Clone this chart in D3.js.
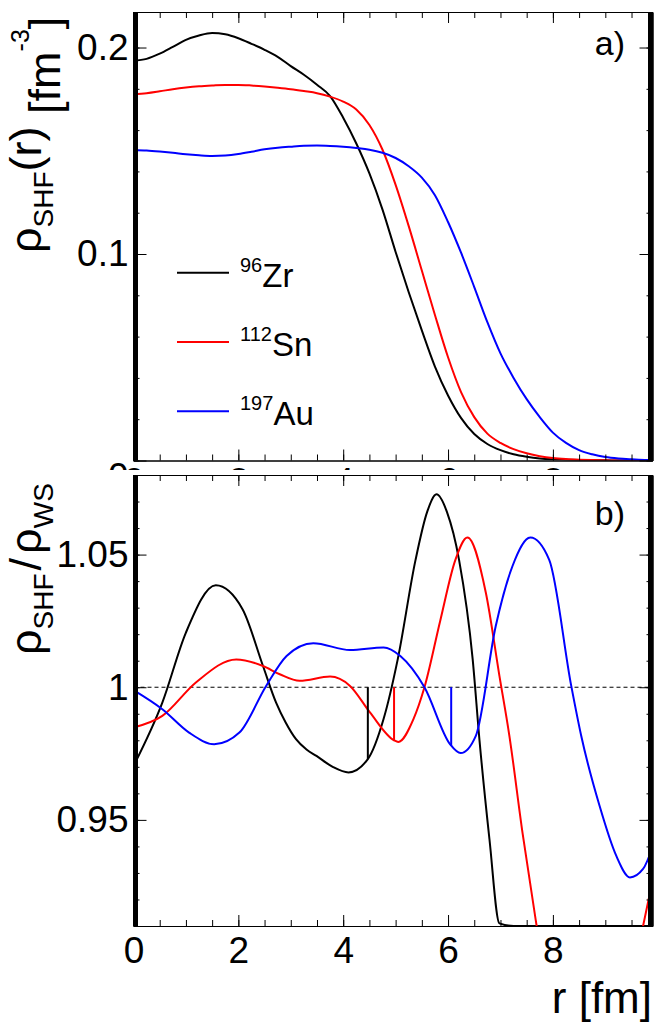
<!doctype html>
<html>
<head>
<script type='text/javascript' src='https://d3js.org/d3.v7.min.js'></script>
<style>
body{margin:0;background:#fff}
svg{display:block;font-family:"Liberation Sans",Arial,Helvetica,sans-serif}
</style>
</head>
<body>
<script>
var width = 664, height = 1026;

// panel a) SHF densities [fm^-3] on a common r grid [fm]
var rGrid = [0, 0.25, 0.5, 0.75, 1, 1.25, 1.5, 1.75, 2, 2.25, 2.5, 2.75, 3, 3.25, 3.5, 3.75, 4, 4.25, 4.5, 4.75,
             5, 5.25, 5.5, 5.75, 6, 6.25, 6.5, 6.75, 7, 7.25, 7.5, 7.75, 8, 8.25, 8.5, 8.75, 9, 9.25, 9.5, 9.75, 9.9];
var zrDensity = [0.1936, 0.1945, 0.197, 0.2003, 0.2037, 0.2058, 0.207, 0.2064, 0.2045, 0.2018, 0.1989, 0.1955, 0.191, 0.1868, 0.182, 0.1765, 0.166, 0.1535, 0.139, 0.1215,
                 0.101, 0.0815, 0.063, 0.0455, 0.0315, 0.0205, 0.0128, 0.008, 0.005, 0.003, 0.0018, 0.001, 0.0006, 0.0004, 0.0002, 0.0001, 0.0001, 0, 0, 0, 0];
var snDensity = [0.1774, 0.1779, 0.1788, 0.1798, 0.1806, 0.1812, 0.1816, 0.1819, 0.1819, 0.1816, 0.1811, 0.1805, 0.1798, 0.1789, 0.1779, 0.1762, 0.1738, 0.170, 0.1625, 0.1505,
                 0.1335, 0.1135, 0.092, 0.0705, 0.050, 0.033, 0.021, 0.013, 0.0085, 0.0055, 0.0035, 0.0021, 0.0012, 0.0007, 0.0004, 0.0002, 0.0001, 0, 0, 0, 0];
var auDensity = [0.1504, 0.1501, 0.1496, 0.149, 0.1483, 0.1478, 0.1475, 0.1477, 0.1484, 0.1495, 0.1507, 0.1515, 0.152, 0.1524, 0.1525, 0.1523, 0.1519, 0.1513, 0.1505, 0.149,
                 0.1465, 0.1425, 0.137, 0.1285, 0.1155, 0.1005, 0.084, 0.067, 0.0519, 0.04, 0.0297, 0.021, 0.0135, 0.0085, 0.005, 0.003, 0.0017, 0.001, 0.0006, 0.0003, 0.0002];

// panel b) rho_SHF / rho_WS
var zrRatioR = [0, 0.55, 1.0, 1.57, 2.08, 2.47, 2.72, 2.9, 3.1, 3.3, 3.49, 3.8, 4.1, 4.47, 4.77, 5.04, 5.38, 5.6, 5.78, 5.98, 6.21, 6.47, 6.6, 6.79, 6.98, 7.25, 7.5, 8.0, 8.5, 9.0, 9.5, 9.9];
var zrRatio  = [0.9703, 0.9942, 1.0206, 1.0384, 1.0294, 1.008, 0.9942, 0.9868, 0.9804, 0.9765, 0.9741, 0.970, 0.9679, 0.9729, 0.988, 1.0105, 1.048, 1.066, 1.0727, 1.066, 1.048, 1.0105, 0.980, 0.9427, 0.911, 0.86, 0.80, 0.68, 0.55, 0.45, 0.36, 0.30];
var snRatioR = [0, 0.55, 1.19, 1.96, 2.47, 2.79, 3.17, 3.75, 4.13, 4.51, 4.97, 5.05, 5.34, 5.55, 5.85, 6.14, 6.37, 6.72, 6.98, 7.17, 7.42, 7.69, 8.0, 8.5, 9.0, 9.4, 9.72, 9.9];
var snRatio  = [0.9848, 0.9892, 1.0018, 1.0105, 1.008, 1.0049, 1.0024, 1.004, 1.0005, 0.9905, 0.9800, 0.9794, 0.988, 1.000, 1.025, 1.048, 1.0564, 1.0357, 1.0043, 0.9817, 0.9452, 0.910, 0.872, 0.845, 0.848, 0.88, 0.910, 0.927];
var auRatioR = [0, 0.55, 1.06, 1.54, 2.02, 2.53, 2.92, 3.43, 4.13, 4.77, 5.09, 5.55, 6.04, 6.24, 6.53, 6.91, 7.23, 7.57, 7.93, 8.35, 8.54, 8.89, 9.21, 9.47, 9.72, 9.9];
var auRatio  = [0.9989, 0.9917, 0.9829, 0.9785, 0.9829, 1.0005, 1.0118, 1.0166, 1.014, 1.015, 1.0118, 1.0000, 0.9785, 0.9752, 0.9817, 1.0231, 1.0457, 1.0564, 1.048, 1.0005, 0.9817, 0.9553, 0.9364, 0.9283, 0.9315, 0.9396];

// single-point spikes in the ratio (up to 1)
var spikeR   = [4.47, 4.97, 6.06];
var spikeLow = [0.9729, 0.9800, 0.9779];

var massNumbers = ['96', '112', '197'];
var symbols = ['Zr', 'Sn', 'Au'];
var xTicks = [0, 2, 4, 6, 8];
var topYTicks = [0, 0.1, 0.2];
var botYTicks = [0.95, 1, 1.05];
var colors = ['#000000', '#ff0000', '#0000ff'];

var svg = d3.select('body').append('svg').attr('width', width).attr('height', height);

var x = d3.scaleLinear().domain([0, 9.9]).range([133.5, 652.5]);
var yTop = d3.scaleLinear().domain([0, 0.2172]).range([460.5, 12]);
var yBot = d3.scaleLinear().domain([0.91, 1.08]).range([926, 475]);

var xMinor = d3.range(0, 9.9, 0.5);

function styleAxis(g) {
  g.attr('font-family', null).attr('font-size', 37);
  g.selectAll('line').attr('stroke', '#000').attr('stroke-width', 1);
  g.selectAll('path').attr('stroke', '#000').attr('stroke-width', 1);
  g.selectAll('text').attr('fill', '#000');
}

function drawFrame(g, y, yMajor, yMinor, xPad, yFmt) {
  var y0 = y.range()[0], y1 = y.range()[1];
  // minor ticks
  g.append('g').attr('transform', 'translate(0,' + y0 + ')')
    .call(d3.axisBottom(x).tickValues(xMinor).tickSize(-6).tickSizeOuter(0).tickFormat('')).call(styleAxis);
  g.append('g').attr('transform', 'translate(0,' + y1 + ')')
    .call(d3.axisTop(x).tickValues(xMinor).tickSize(-6).tickSizeOuter(0).tickFormat('')).call(styleAxis);
  g.append('g').attr('transform', 'translate(' + x(0) + ',0)')
    .call(d3.axisLeft(y).tickValues(yMinor).tickSize(-6).tickSizeOuter(0).tickFormat('')).call(styleAxis);
  g.append('g').attr('transform', 'translate(' + x(9.9) + ',0)')
    .call(d3.axisRight(y).tickValues(yMinor).tickSize(-6).tickSizeOuter(0).tickFormat('')).call(styleAxis);
  // major ticks + labels
  g.append('g').attr('transform', 'translate(0,' + y0 + ')')
    .call(d3.axisBottom(x).tickValues(xTicks).tickSize(-11).tickSizeOuter(0).tickPadding(xPad).tickFormat(d3.format('d'))).call(styleAxis);
  g.append('g').attr('transform', 'translate(0,' + y1 + ')')
    .call(d3.axisTop(x).tickValues(xTicks).tickSize(-11).tickSizeOuter(0).tickFormat('')).call(styleAxis);
  var yl = g.append('g').attr('transform', 'translate(' + x(0) + ',0)')
    .call(d3.axisLeft(y).tickValues(yMajor).tickSize(-13).tickSizeOuter(0).tickPadding(5).tickFormat(yFmt)).call(styleAxis);
  g.append('g').attr('transform', 'translate(' + x(9.9) + ',0)')
    .call(d3.axisRight(y).tickValues(yMajor).tickSize(-13).tickSizeOuter(0).tickFormat('')).call(styleAxis);
  // thick vertical axes
  g.append('rect').attr('x', x(0) - 0.5).attr('y', y1).attr('width', 5).attr('height', y0 - y1).attr('fill', '#000');
  g.append('rect').attr('x', x(9.9) - 4.5).attr('y', y1).attr('width', 5).attr('height', y0 - y1).attr('fill', '#000');
  return yl;
}

var lineTop = d3.line().x(function(d) { return x(d[0]); }).y(function(d) { return yTop(d[1]); }).curve(d3.curveMonotoneX);

// ---------- panel a)
svg.append('clipPath').attr('id', 'padA').append('rect').attr('x', 0).attr('y', 0).attr('width', width).attr('height', 470);
svg.append('clipPath').attr('id', 'frameA').append('rect')
  .attr('x', x(0)).attr('y', yTop.range()[1]).attr('width', x(9.9) - x(0)).attr('height', yTop.range()[0] - yTop.range()[1]);
var pa = svg.append('g').attr('clip-path', 'url(#padA)');

var densities = [zrDensity, snDensity, auDensity];
pa.append('g').attr('clip-path', 'url(#frameA)').selectAll('path')
  .data(densities).join('path')
  .attr('d', function(s) { return lineTop(rGrid.map(function(r, i) { return [r, s[i]]; })); })
  .attr('fill', 'none')
  .attr('stroke', function(s, i) { return colors[i]; })
  .attr('stroke-width', 2);

var ylA = drawFrame(pa, yTop, topYTicks, d3.range(0, 0.218, 0.02), 7, function(d) { return d === 0 ? '0' : d3.format('.1f')(d); });
ylA.selectAll('.tick text').filter(function(d) { return d === 0; }).attr('dy', '0.75em');

// legend
var leg = pa.append('g').selectAll('g').data(symbols).join('g')
  .attr('transform', function(d, i) { return 'translate(0,' + (286.7 + i * 69.3) + ')'; });
leg.append('line').attr('x1', 177).attr('x2', 229).attr('y1', -14).attr('y2', -14)
  .attr('stroke', function(d, i) { return colors[i]; }).attr('stroke-width', 2);
var lt = leg.append('text').attr('x', 240).attr('y', 0).attr('font-size', 33);
lt.append('tspan').attr('font-size', 20).attr('dy', -15).text(function(d, i) { return massNumbers[i]; });
lt.append('tspan').attr('dy', 15).text(function(d) { return d; });

pa.append('text').attr('x', 625).attr('y', 55).attr('text-anchor', 'end').attr('font-size', 34).text('a)');

var ta = svg.append('text').attr('transform', 'rotate(-90)').attr('x', -253).attr('y', 41).attr('font-size', 45);
ta.append('tspan').text('\u03c1');
ta.append('tspan').attr('font-size', 28).attr('dy', 12).text('SHF');
ta.append('tspan').attr('dy', -12).text('(r)');
ta.append('tspan').attr('dy', 19).text('\u00a0[fm');
ta.append('tspan').attr('font-size', 25).attr('dy', -31).text('-3');
ta.append('tspan').attr('dy', 31).text(']');

// ---------- panel b)
svg.append('clipPath').attr('id', 'frameB').append('rect')
  .attr('x', x(0)).attr('y', yBot.range()[1]).attr('width', x(9.9) - x(0)).attr('height', yBot.range()[0] - yBot.range()[1] + 1);
var pb = svg.append('g');

pb.append('line').attr('x1', x(0)).attr('x2', x(9.9)).attr('y1', yBot(1)).attr('y2', yBot(1))
  .attr('stroke', '#000').attr('stroke-width', 1).attr('stroke-dasharray', '4,3');

var ratios = [[zrRatioR, zrRatio, true], [snRatioR, snRatio, false], [auRatioR, auRatio, false]];
var yClamp = yBot.copy().clamp(true);
pb.append('g').attr('clip-path', 'url(#frameB)').selectAll('path')
  .data(ratios).join('path')
  .attr('d', function(s) {
    var ys = s[2] ? yClamp : yBot;
    return d3.line().x(function(d) { return x(d[0]); }).y(function(d) { return ys(d[1]); })
      .curve(d3.curveMonotoneX)(s[0].map(function(r, i) { return [r, s[1][i]]; }));
  })
  .attr('fill', 'none')
  .attr('stroke', function(s, i) { return colors[i]; })
  .attr('stroke-width', 2);

pb.selectAll('.spike').data(spikeR).join('line').attr('class', 'spike')
  .attr('x1', function(d) { return x(d); }).attr('x2', function(d) { return x(d); })
  .attr('y1', function(d, i) { return yBot(spikeLow[i]); }).attr('y2', yBot(1))
  .attr('stroke', function(d, i) { return colors[i]; }).attr('stroke-width', 2);

drawFrame(pb, yBot, botYTicks, d3.range(0.91, 1.0801, 0.01), 11, function(d) { return d === 1 ? '1' : String(d); });

pb.append('text').attr('x', 625).attr('y', 525).attr('text-anchor', 'end').attr('font-size', 34).text('b)');

var tb = svg.append('text').attr('transform', 'rotate(-90)').attr('x', -655).attr('y', 41).attr('font-size', 45);
tb.append('tspan').text('\u03c1');
tb.append('tspan').attr('font-size', 28).attr('dy', 12).text('SHF');
tb.append('tspan').attr('dx', 3).attr('dy', -12).text('/');
tb.append('tspan').attr('dx', 4).text('\u03c1');
tb.append('tspan').attr('font-size', 28).attr('dy', 12).text('WS');

svg.append('text').attr('x', 652).attr('y', 1013).attr('text-anchor', 'end').attr('font-size', 44).text('r [fm]');
</script>
</body>
</html>
